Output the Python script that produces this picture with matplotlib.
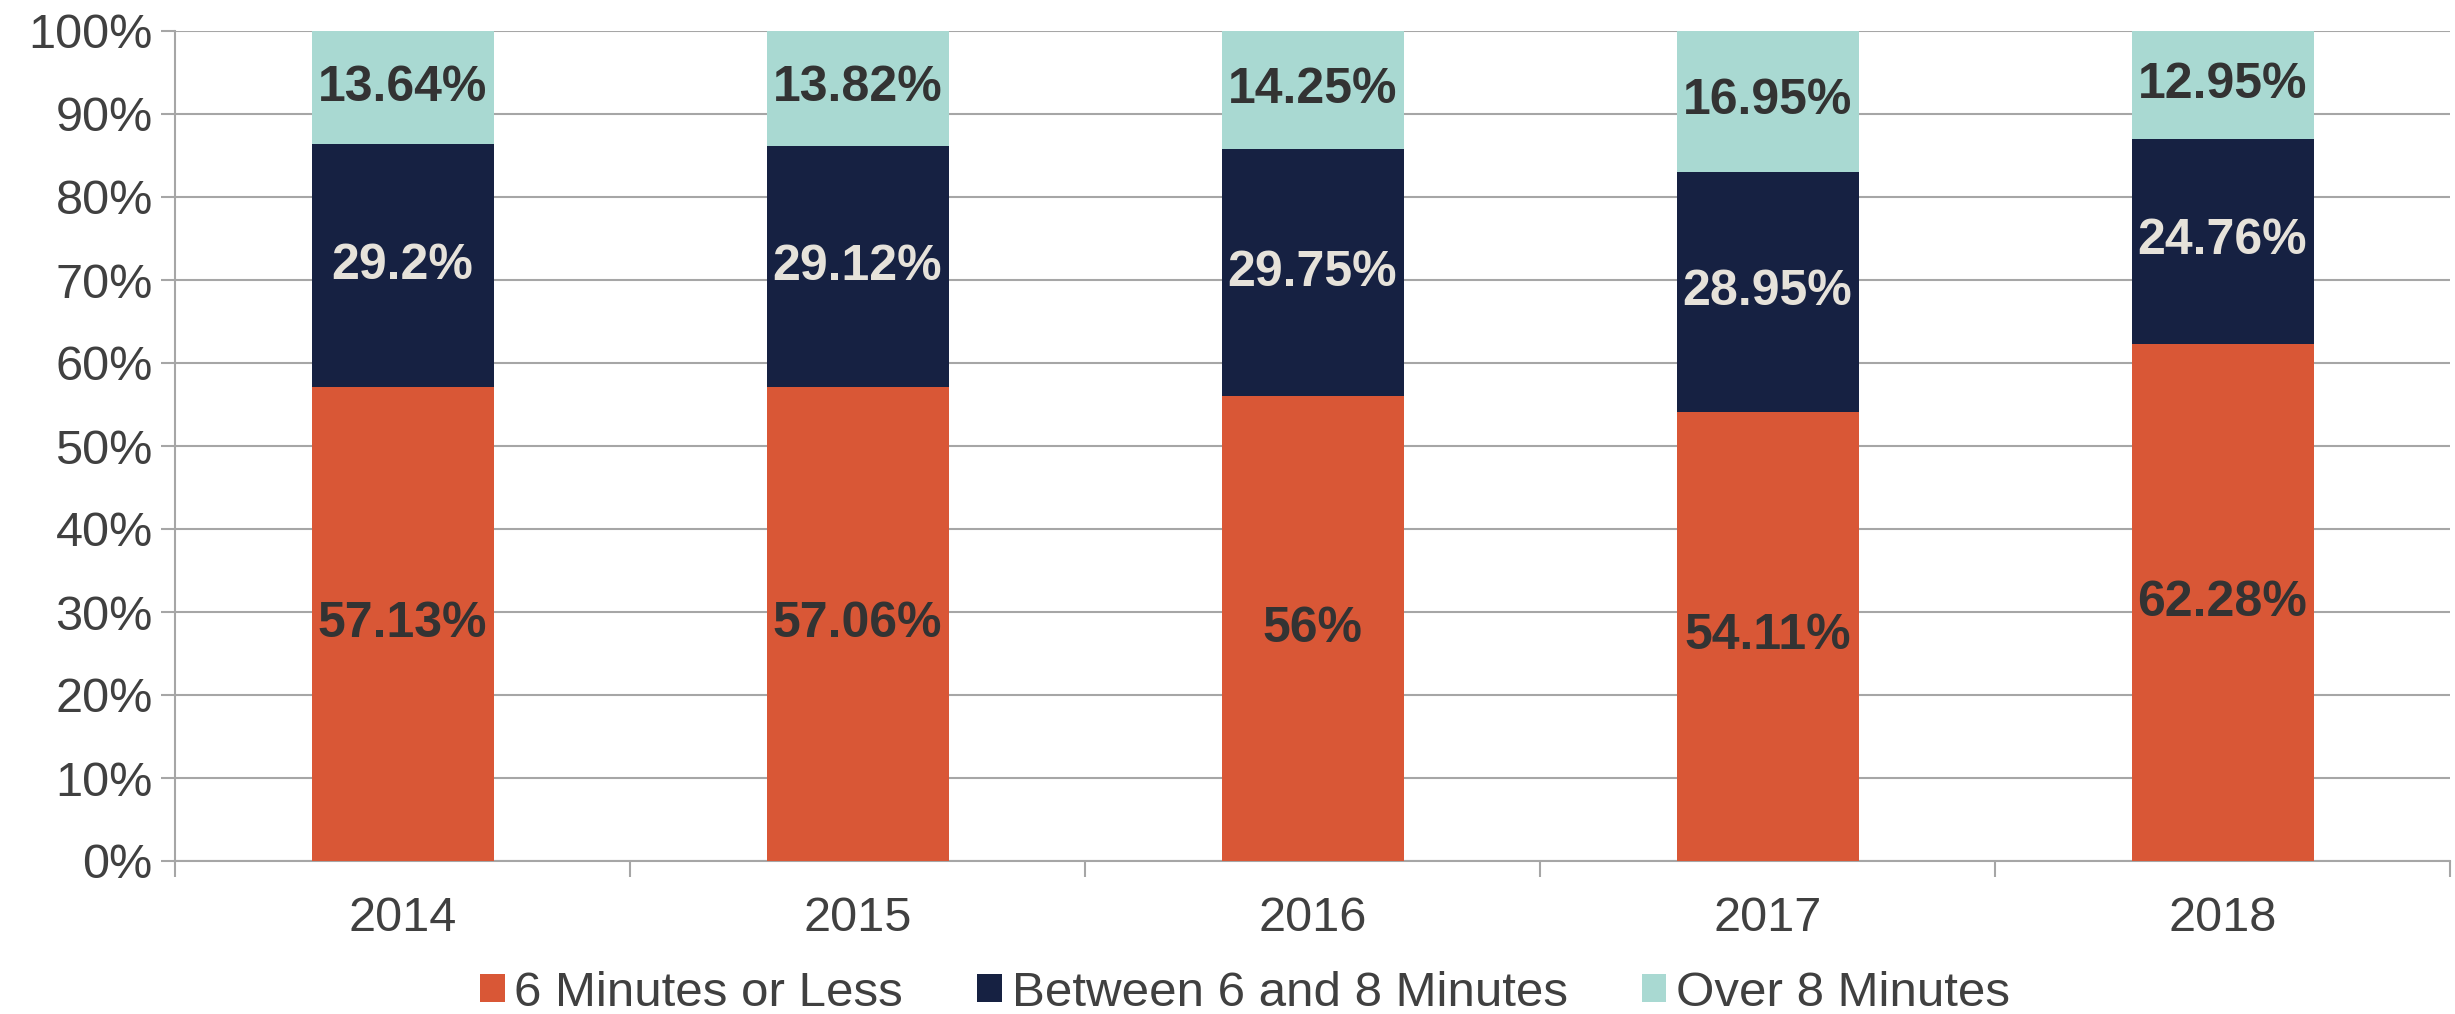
import matplotlib
matplotlib.use("Agg")
import matplotlib.pyplot as plt
from matplotlib.patches import Patch
import numpy as np

plt.rcParams['font.family'] = ['Liberation Sans', 'DejaVu Sans']

years = ["2014", "2015", "2016", "2017", "2018"]
six_or_less = [57.13, 57.06, 56.0, 54.11, 62.28]
between_6_8 = [29.2, 29.12, 29.75, 28.95, 24.76]
over_8 = [13.64, 13.82, 14.25, 16.95, 12.95]
six_labels = ["57.13%", "57.06%", "56%", "54.11%", "62.28%"]
between_labels = ["29.2%", "29.12%", "29.75%", "28.95%", "24.76%"]
over_labels = ["13.64%", "13.82%", "14.25%", "16.95%", "12.95%"]
series_names = ["6 Minutes or Less", "Between 6 and 8 Minutes", "Over 8 Minutes"]

colors = ["#D95736", "#162142", "#A9D9D2"]
label_colors = ["#333333", "#E6E2DA", "#333333"]

fig = plt.figure(figsize=(24.55, 10.14), dpi=100)
ax = fig.add_axes([175/2455, 1-861/1014, (2450-175)/2455, (861-31)/1014])

x = np.arange(len(years))
series = [six_or_less, between_6_8, over_8]
labels = [six_labels, between_labels, over_labels]
bottom = np.zeros(len(years))
for vals, labs, c, lc, name in zip(series, labels, colors, label_colors, series_names):
    vals = np.array(vals)
    ax.bar(x, vals, 0.4, bottom=bottom, color=c, label=name, zorder=3)
    for xi, b, v, t in zip(x, bottom, vals, labs):
        ax.text(xi, b + v/2, t, ha='center', va='center', fontsize=36,
                fontweight='bold', color=lc, zorder=4)
    bottom = bottom + vals

ax.set_xlim(-0.5, len(years)-0.5)
ax.set_ylim(0, 100)
ax.set_yticks(np.arange(0, 101, 10))
ax.set_yticklabels([f"{v}%" for v in range(0, 101, 10)])
ax.set_xticks(x)
ax.set_xticklabels(years)
ax.set_xticks(np.arange(-0.5, len(years), 1), minor=True)

grid_c = "#A6A6A6"
ax.yaxis.grid(True, color=grid_c, linewidth=1.5, zorder=0)
for s in ['top', 'right']:
    ax.spines[s].set_visible(False)
for s in ['left', 'bottom']:
    ax.spines[s].set_color(grid_c)
    ax.spines[s].set_linewidth(1.5)

ax.tick_params(axis='y', length=10, width=1.5, color=grid_c, pad=6,
               labelsize=35, labelcolor='#404040')
ax.tick_params(axis='x', which='major', length=0, pad=25,
               labelsize=35, labelcolor='#404040')
ax.tick_params(axis='x', which='minor', length=11.5, width=1.5, color=grid_c)

handles = [Patch(facecolor=c, edgecolor='none') for c in colors]
fig.legend(handles, series_names, loc='center', bbox_to_anchor=(1245/2455, 1-993/1014),
           ncol=3, frameon=False, fontsize=35.5, handlelength=0.5, handleheight=0.5,
           handletextpad=0.2, columnspacing=1.5, labelcolor='#404040')

fig.savefig("out.png", dpi=100)
